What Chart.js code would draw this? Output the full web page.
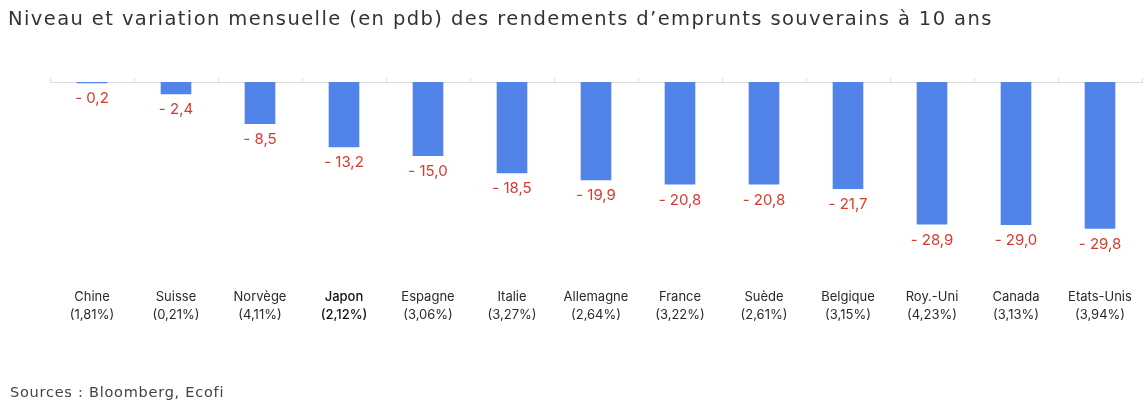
<!DOCTYPE html>
<html lang="fr">
<head>
<meta charset="utf-8">
<script src="https://cdn.jsdelivr.net/npm/chart.js@4"></script>
<style>
  html, body { margin: 0; padding: 0; background: #fff; }
  #wrap { position: relative; width: 1148px; height: 408px; }
  #titre { position: absolute; left: 8px; top: 7px; font: 19.5px "DejaVu Sans", sans-serif; letter-spacing: 1.4px; color: #333; white-space: nowrap; }
  #source { position: absolute; left: 10px; top: 384px; font: 14.5px "DejaVu Sans", sans-serif; letter-spacing: 0.75px; color: #444; white-space: nowrap; }
</style>
</head>
<body>
<div id="wrap">
  <canvas id="chart" width="1148" height="408"></canvas>
  <div id="titre">Niveau et variation mensuelle (en pdb) des rendements d’emprunts souverains à 10 ans</div>
  <div id="source">Sources : Bloomberg, Ecofi</div>
</div>
<script>
const pays = ['Chine', 'Suisse', 'Norvège', 'Japon', 'Espagne', 'Italie', 'Allemagne', 'France', 'Suède', 'Belgique', 'Roy.-Uni', 'Canada', 'Etats-Unis'];
const niveaux = ['(1,81%)', '(0,21%)', '(4,11%)', '(2,12%)', '(3,06%)', '(3,27%)', '(2,64%)', '(3,22%)', '(2,61%)', '(3,15%)', '(4,23%)', '(3,13%)', '(3,94%)'];
const variations = [-0.2, -2.4, -8.5, -13.2, -15.0, -18.5, -19.9, -20.8, -20.8, -21.7, -28.9, -29.0, -29.8];

const labels = pays.map((p, i) => [p, niveaux[i]]);

// étiquettes rouges sous chaque barre
const valeursPlugin = {
    id: 'valeurs',
    afterDatasetsDraw(chart) {
        const ctx = chart.ctx;
        const meta = chart.getDatasetMeta(0);
        ctx.save();
        ctx.font = '15px Inter, sans-serif';
        ctx.fillStyle = '#d8392e';
        ctx.textAlign = 'center';
        ctx.textBaseline = 'middle';
        meta.data.forEach((bar, i) => {
            const txt = '- ' + Math.abs(variations[i]).toFixed(1).replace('.', ',');
            ctx.fillText(txt, bar.x, bar.y + 16);
        });
        ctx.restore();
    }
};

new Chart(document.getElementById('chart').getContext('2d'), {
    type: 'bar',
    data: {
        labels: labels,
        datasets: [{
            data: variations,
            backgroundColor: '#5283e8',
            barThickness: 30,
            xAxisID: 'x'
        }]
    },
    options: {
        responsive: false,
        animation: false,
        layout: { padding: { top: 78, left: 50, right: 6, bottom: 78 } },
        plugins: {
            legend: { display: false },
            tooltip: { enabled: false }
        },
        scales: {
            x: {
                position: 'bottom',
                grid: { display: false, drawTicks: false },
                border: { display: false },
                ticks: {
                    padding: 6,
                    color: (c) => c.index === 3 ? '#111' : '#2a2a2a',
                    font: (c) => ({ family: 'Inter, sans-serif', size: 13, lineHeight: 1.4, weight: c.index === 3 ? '500' : '400' }),
                    maxRotation: 0,
                    autoSkip: false
                }
            },
            x2: {
                type: 'category',
                position: 'top',
                grid: { offset: true, drawOnChartArea: false, tickLength: 4, color: '#dcdcdc' },
                border: { color: '#dcdcdc' },
                ticks: { display: false }
            },
            y: {
                display: false,
                min: -40.6,
                max: 0
            }
        }
    },
    plugins: [valeursPlugin]
});
</script>
</body>
</html>
